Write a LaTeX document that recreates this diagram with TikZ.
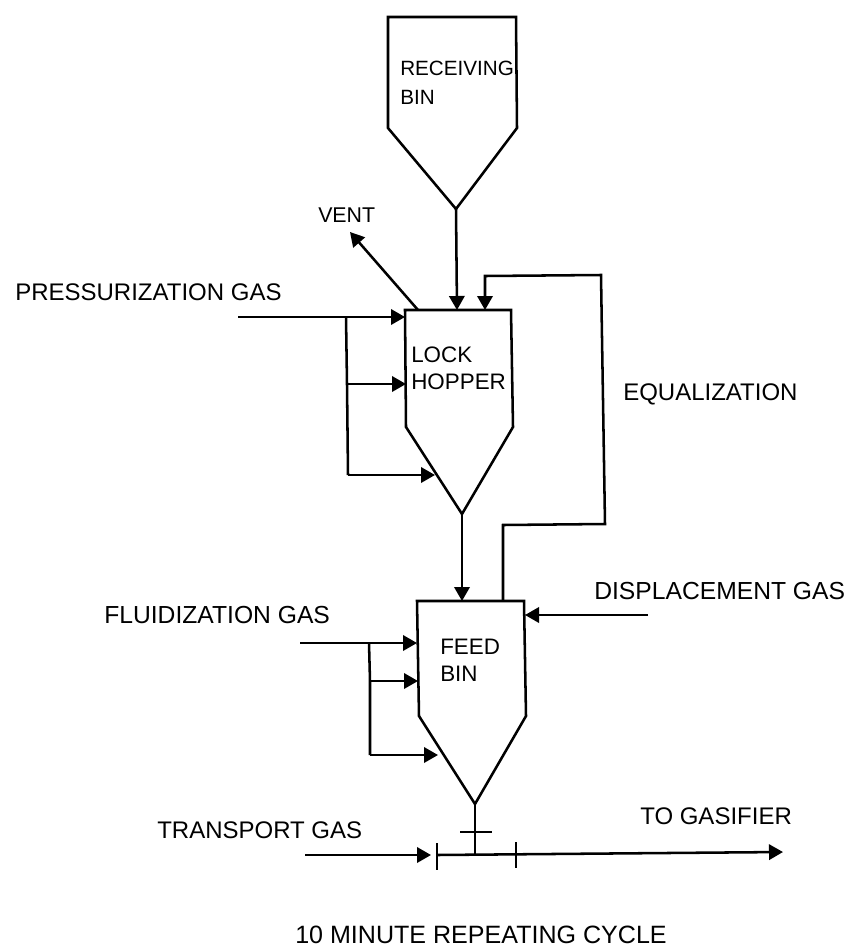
\documentclass[tikz,border=0pt]{standalone}
\usepackage{fontspec}
\setmainfont{Liberation Sans}
\usetikzlibrary{arrows.meta}

\begin{document}
\begin{tikzpicture}[
    x=0.75pt, y=-0.75pt,
    vessel/.style={line width=1.9pt, line join=miter},
    pipe/.style={line width=1.9pt},
    arr/.style={pipe, -{Triangle[length=10.5pt,width=11.5pt]}},
    lbl/.style={anchor=west, inner sep=0pt, font=\fontsize{18}{20}\selectfont},
    inlbl/.style={anchor=west, inner sep=0pt, align=left, font=\fontsize{16.8}{20.2}\selectfont}
]
    \useasboundingbox (0,0) rectangle (847,950);

    % vessels
    \draw[vessel] (388,17) coordinate (recTL) -- (516,17) -- (517,128) -- (456,209) coordinate (recOut) -- (388,128) -- cycle;
    \draw[vessel] (405,310) coordinate (lockTL) -- (511,310) coordinate (lockTR) -- (513,427) -- (462,514) coordinate (lockOut) -- (406,427) -- cycle;
    \draw[vessel] (417,601) coordinate (feedTL) -- (524,601) coordinate (feedTR) -- (526,716) -- (475,804) coordinate (feedOut) -- (419,716) -- cycle;

    \node[inlbl, font=\fontsize{15.5}{21.5}\selectfont] (recName) at (400,83) {RECEIVING\\BIN};
    \node[inlbl] (lockName) at (411,368) {LOCK\\HOPPER};
    \node[inlbl] (feedName) at (440,660) {FEED\\BIN};

    % labels outside
    \node[lbl, font=\fontsize{16}{20}\selectfont] (vent) at (318,215) {VENT};
    \node[lbl] (pressGas) at (15,292) {PRESSURIZATION GAS};
    \node[lbl] (equal) at (623,394) {EQUALIZATION};
    \node[lbl, font=\fontsize{18.5}{20}\selectfont] (dispGas) at (594,591) {DISPLACEMENT GAS};
    \node[lbl, font=\fontsize{18.5}{20}\selectfont] (fluidGas) at (104,615) {FLUIDIZATION GAS};
    \node[lbl] (transGas) at (157,830) {TRANSPORT GAS};
    \node[lbl] (toGas) at (640,816) {TO GASIFIER};
    \node[lbl, font=\fontsize{18.8}{20}\selectfont] (cycle) at (295,935) {10 MINUTE REPEATING CYCLE};

    % ports
    \coordinate (lockIn) at (457,310);
    \coordinate (lockEq) at (485,310);
    \coordinate (ventFrom) at (418,310);
    \coordinate (ventTo) at (350,232);
    \coordinate (pressFrom) at (238,317);
    \coordinate (pressTo) at (405,317);
    \coordinate (pressA) at (346,317);
    \coordinate (pressB) at (347,384);
    \coordinate (pressBTo) at (406,384);
    \coordinate (pressC) at (348,475);
    \coordinate (pressCTo) at (435,475);
    \coordinate (feedIn) at (462,601);
    \coordinate (feedEq) at (503,601);
    \coordinate (dispFrom) at (648,615);
    \coordinate (dispTo) at (525,615);
    \coordinate (fluidFrom) at (300,643);
    \coordinate (fluidTo) at (417,643);
    \coordinate (fluidA) at (369,643);
    \coordinate (fluidB) at (370,681);
    \coordinate (fluidBTo) at (418,681);
    \coordinate (fluidC) at (370,755);
    \coordinate (fluidCTo) at (438,755);
    \coordinate (transFrom) at (305,855);
    \coordinate (transTo) at (431,855);
    \coordinate (lineStart) at (437,855);
    \coordinate (lineJoin) at (475,854);
    \coordinate (lineEnd) at (783,852);

    \draw[arr] (recOut) -- (lockIn);
    \draw[arr] (ventFrom) -- (ventTo);
    \draw[arr] (pressFrom) -- (pressTo);
    \draw[pipe] (pressA) -- (pressB) -- (pressC);
    \draw[arr] (pressB) -- (pressBTo);
    \draw[arr] (pressC) -- (pressCTo);
    \draw[arr] (lockOut) -- (feedIn);
    \draw[arr] (feedEq) -- (503,525) -- (605,524) -- (601,275) -- (485,276) -- (lockEq);
    \draw[arr] (dispFrom) -- (dispTo);
    \draw[arr] (fluidFrom) -- (fluidTo);
    \draw[pipe] (fluidA) -- (fluidB) -- (fluidC);
    \draw[arr] (fluidB) -- (fluidBTo);
    \draw[arr] (fluidC) -- (fluidCTo);
    \draw[arr] (transFrom) -- (transTo);
    \draw[arr] (lineStart) -- (lineEnd);
    \draw[pipe] (feedOut) -- (lineJoin);

    % valves
    \draw[pipe] (460,832) -- (492,832);
    \draw[pipe] (437,843) -- (437,870);
    \draw[pipe] (516,842) -- (516,868);
\end{tikzpicture}
\end{document}
